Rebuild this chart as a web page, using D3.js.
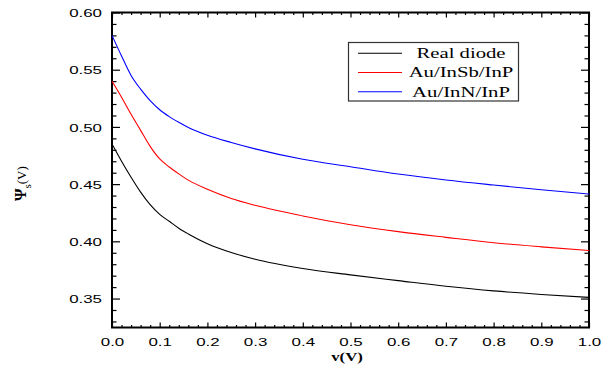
<!DOCTYPE html>
<html>
<head>
<meta charset="utf-8">
<script src="https://cdn.jsdelivr.net/npm/d3@7"></script>
<style>
  html, body { margin: 0; padding: 0; background: #fff; }
  svg { display: block; }
</style>
</head>
<body>
<svg id="chart" width="608" height="376"></svg>
<script>
// ---- data ----
const voltage = [0, 0.02, 0.04, 0.06, 0.08, 0.10, 0.12, 0.14, 0.16, 0.20, 0.25, 0.30, 0.40, 0.50, 0.60, 0.70, 0.80, 0.90, 1.00];
const realDiode = [0.485, 0.470, 0.456, 0.443, 0.432, 0.4235, 0.4175, 0.4115, 0.4065, 0.398, 0.3903, 0.3843, 0.3762, 0.3707, 0.3657, 0.3608, 0.3567, 0.3536, 0.351];
const auInSbInP = [0.540, 0.526, 0.511, 0.497, 0.483, 0.472, 0.465, 0.459, 0.4535, 0.4455, 0.4375, 0.4315, 0.4222, 0.4145, 0.4085, 0.4035, 0.3988, 0.3952, 0.392];
const auInNInP  = [0.580, 0.562, 0.545, 0.533, 0.523, 0.515, 0.509, 0.504, 0.4995, 0.4927, 0.4864, 0.4808, 0.4717, 0.4652, 0.4588, 0.4536, 0.4492, 0.4451, 0.4413];
const seriesNames = ["Real diode", "Au/InSb/InP", "Au/InN/InP"];
const seriesColors = ["#000000", "#ff0000", "#0000ff"];
const xTicks = [0, 0.1, 0.2, 0.3, 0.4, 0.5, 0.6, 0.7, 0.8, 0.9, 1.0];
const yTicks = [0.35, 0.40, 0.45, 0.50, 0.55, 0.60];

// ---- layout ----
const svg = d3.select("#chart");
const L = 112, R = 589, T = 12.5, B = 327.5;
const SX = 1.47; // horizontal stretch of the source figure

const x = d3.scaleLinear().domain([0, 1]).range([L, R]);
const y = d3.scaleLinear().domain([0.3247, 0.60]).range([B, T]);

const fontSans = "'Liberation Sans', Arial, sans-serif";
const fontSerif = "'Liberation Serif', 'Times New Roman', serif";

// minor ticks
const xMinor = d3.range(0, 1.0001, 0.02).filter(v => Math.abs(v * 10 - Math.round(v * 10)) > 1e-6);
const yMinor = d3.range(0.33, 0.6001, 0.01).filter(v => Math.abs(v * 20 - Math.round(v * 20)) > 1e-6);

function styleAxis(g) {
  g.select(".domain").remove();
  g.selectAll("line").attr("stroke", "#000").attr("stroke-width", 1.2);
}

// bottom axis: major
const gxb = svg.append("g").attr("transform", `translate(0,${B})`)
  .call(d3.axisBottom(x).tickValues(xTicks).tickSize(-5).tickPadding(0).tickFormat(d3.format(".1f")));
styleAxis(gxb);
gxb.selectAll("text")
  .attr("y", 0).attr("dy", 0)
  .attr("transform", `translate(0,18.5) scale(${SX},1)`)
  .attr("font-family", fontSans).attr("font-size", 11.5).attr("fill", "#000");
// bottom minor
const gxbm = svg.append("g").attr("transform", `translate(0,${B})`)
  .call(d3.axisBottom(x).tickValues(xMinor).tickSize(-2.5).tickFormat(""));
styleAxis(gxbm);
// top mirrors
const gxt = svg.append("g").attr("transform", `translate(0,${T})`)
  .call(d3.axisTop(x).tickValues(xTicks).tickSize(-5).tickFormat(""));
styleAxis(gxt);
const gxtm = svg.append("g").attr("transform", `translate(0,${T})`)
  .call(d3.axisTop(x).tickValues(xMinor).tickSize(-2.5).tickFormat(""));
styleAxis(gxtm);

// left axis major
const gyl = svg.append("g").attr("transform", `translate(${L},0)`)
  .call(d3.axisLeft(y).tickValues(yTicks).tickSize(-8).tickPadding(0).tickFormat(d3.format(".2f")));
styleAxis(gyl);
gyl.selectAll("text")
  .attr("x", 0).attr("dy", "0.36em")
  .attr("transform", `translate(-10,0) scale(${SX},1)`)
  .attr("font-family", fontSans).attr("font-size", 11.5).attr("fill", "#000");
const gylm = svg.append("g").attr("transform", `translate(${L},0)`)
  .call(d3.axisLeft(y).tickValues(yMinor).tickSize(-4.5).tickFormat(""));
styleAxis(gylm);
// right mirrors
const gyr = svg.append("g").attr("transform", `translate(${R},0)`)
  .call(d3.axisRight(y).tickValues(yTicks).tickSize(-8).tickFormat(""));
styleAxis(gyr);
const gyrm = svg.append("g").attr("transform", `translate(${R},0)`)
  .call(d3.axisRight(y).tickValues(yMinor).tickSize(-4.5).tickFormat(""));
styleAxis(gyrm);

// frame
svg.append("rect").attr("x", L).attr("y", T).attr("width", R - L).attr("height", B - T)
  .attr("fill", "none").attr("stroke", "#000").attr("stroke-width", 2);

// curves
const allSeries = [realDiode, auInSbInP, auInNInP];
const line = d3.line().x((d, i) => x(voltage[i])).y(d => y(d)).curve(d3.curveMonotoneX);
allSeries.forEach((s, k) => {
  svg.append("path").datum(s).attr("d", line)
    .attr("fill", "none").attr("stroke", seriesColors[k]).attr("stroke-width", 1.1);
});

// legend
const lg = svg.append("g");
lg.append("rect").attr("x", 348.5).attr("y", 42.5).attr("width", 170).attr("height", 58.5)
  .attr("fill", "#fff").attr("stroke", "#333").attr("stroke-width", 1.2);
seriesNames.forEach((name, k) => {
  const cy = 53.3 + k * 19.2;
  lg.append("line").attr("x1", 358).attr("x2", 402).attr("y1", cy).attr("y2", cy)
    .attr("stroke", seriesColors[k]).attr("stroke-width", 1.1);
  lg.append("text").attr("transform", `translate(461,${cy + 4.8}) scale(1.48,1)`)
    .attr("text-anchor", "middle").attr("font-family", fontSerif).attr("font-size", 14)
    .attr("fill", "#000").text(name);
});

// axis titles
svg.append("text").attr("transform", `translate(347,361) scale(1.4,1)`)
  .attr("text-anchor", "middle").attr("font-family", fontSerif).attr("font-weight", "bold")
  .attr("font-size", 12).attr("fill", "#000").text("v(V)");

const yl = svg.append("text").attr("transform", "translate(26,201) rotate(-90)")
  .attr("font-family", fontSerif).attr("fill", "#000");
yl.append("tspan").attr("font-weight", "bold").attr("font-size", 16).text("Ψ");
yl.append("tspan").attr("font-size", 11).attr("dy", 5).text("s");
yl.append("tspan").attr("font-size", 13).attr("dy", -5).text("(V)");
</script>
</body>
</html>
